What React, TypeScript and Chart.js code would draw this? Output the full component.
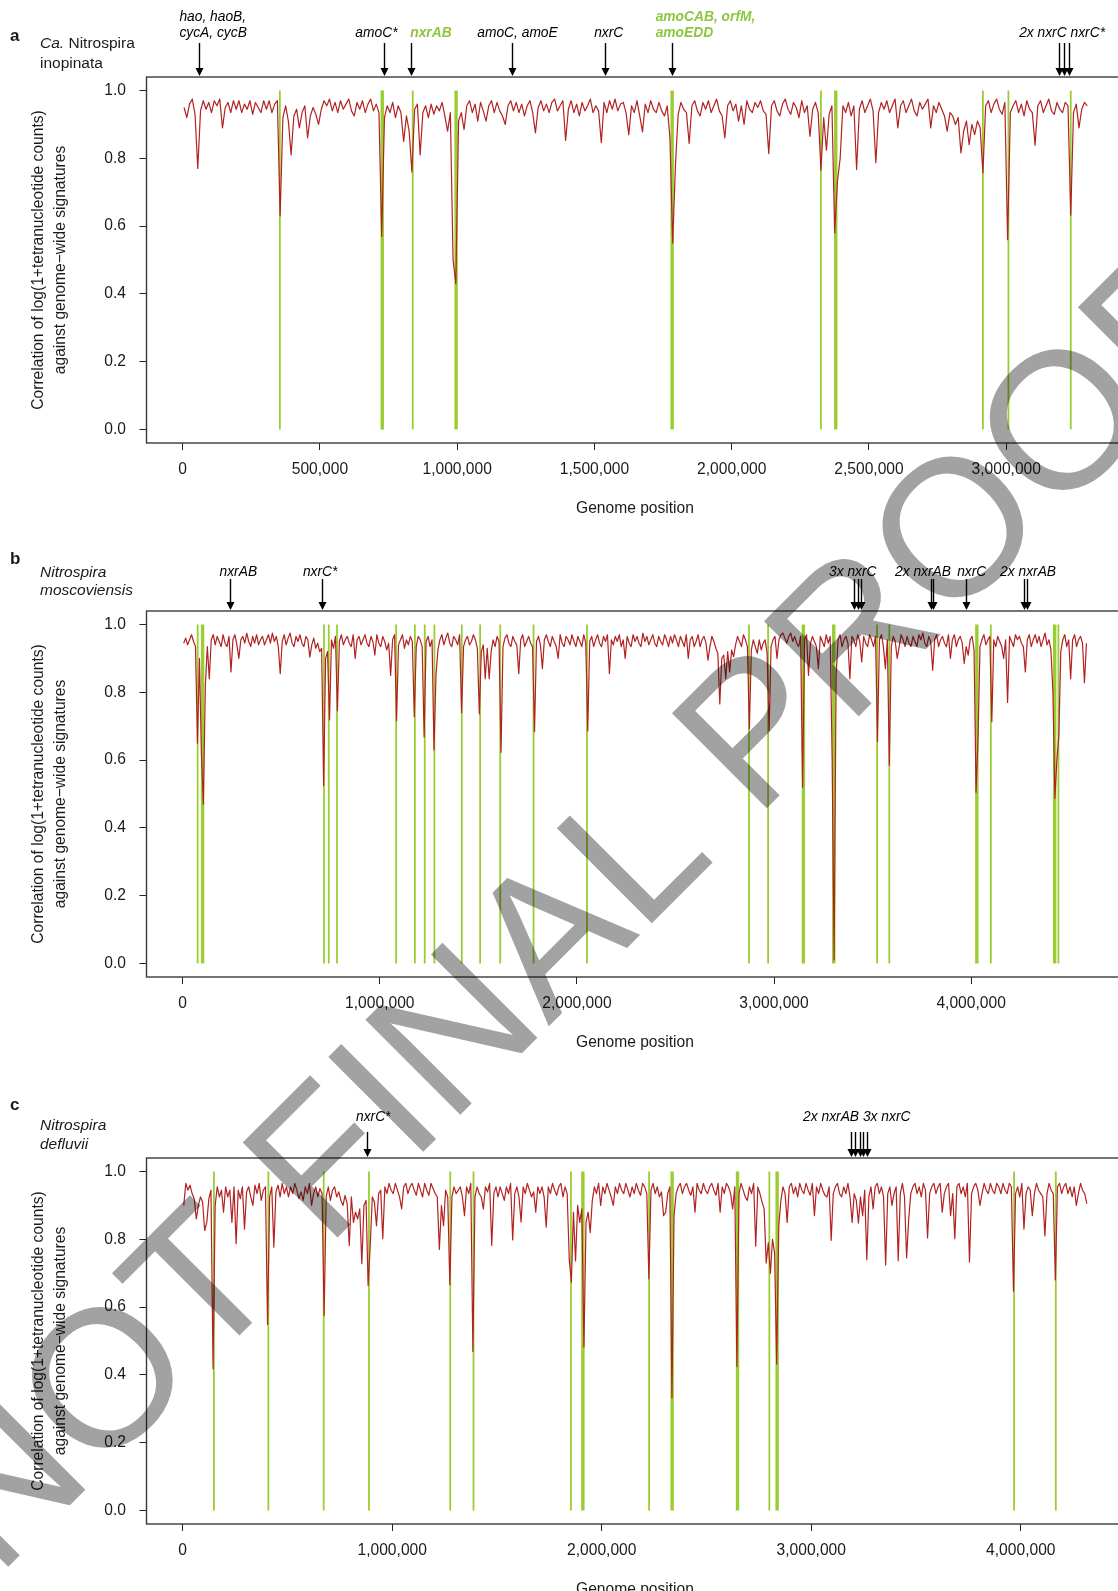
import React, { useEffect, useRef } from 'react';
import { Chart, registerables } from 'chart.js';

Chart.register(...registerables);

const FONT = '"Liberation Sans", Arial, Helvetica, sans-serif';
const RED = '#B22222';
const GREEN = '#9ACD32';
const GREEN_TEXT = '#8DC63F';
const INK = '#1a1a1a';

const WINDOW_BP = 10000;

const GENOME_A = 3295000;
const GENOME_B = 4589000;
const GENOME_C = 4317000;

const XTICKS_A = [0, 500000, 1000000, 1500000, 2000000, 2500000, 3000000];
const XTICKS_BC = [0, 1000000, 2000000, 3000000, 4000000];
const YTICKS = [0, 0.2, 0.4, 0.6, 0.8, 1.0];

const Y_TITLE = ['Correlation of log(1+tetranucleotide counts)', 'against genome\u2212wide signatures'];
const X_TITLE = 'Genome position';

// correlation per 10 kb window — Ca. Nitrospira inopinata
const VALUES_A = [
  .95,.92,.96,.975,.93,.77,.94,.97,.945,.965,
  .935,.97,.955,.975,.89,.95,.965,.935,.97,.945,
  .97,.935,.96,.945,.97,.93,.965,.95,.935,.97,
  .945,.97,.935,.96,.97,.63,.92,.955,.91,.81,
  .925,.945,.89,.935,.955,.86,.925,.95,.93,.90,
  .945,.97,.955,.975,.94,.965,.935,.97,.945,.96,
  .975,.94,.925,.965,.945,.97,.935,.96,.975,.94,
  .96,.935,.57,.92,.955,.935,.965,.92,.955,.935,
  .85,.925,.88,.76,.945,.96,.81,.935,.955,.92,
  .96,.93,.955,.94,.965,.925,.88,.935,.50,.43,
  .91,.935,.885,.955,.97,.935,.96,.91,.965,.94,
  .91,.955,.97,.935,.965,.94,.925,.90,.955,.97,
  .94,.965,.935,.96,.925,.955,.97,.935,.875,.95,
  .97,.94,.96,.935,.965,.975,.94,.955,.97,.853,
  .945,.97,.935,.96,.925,.965,.94,.955,.975,.935,
  .955,.94,.846,.965,.935,.97,.945,.975,.94,.96,
  .965,.935,.87,.955,.935,.97,.925,.878,.96,.935,
  .97,.945,.935,.965,.94,.925,.955,.86,.55,.78,
  .93,.965,.945,.935,.844,.955,.97,.94,.925,.965,
  .945,.97,.935,.955,.975,.94,.925,.86,.955,.97,
  .94,.96,.91,.955,.90,.97,.945,.935,.965,.95,
  .97,.94,.93,.814,.955,.97,.94,.925,.96,.975,
  .945,.93,.965,.95,.92,.97,.935,.955,.865,.945,
  .965,.935,.765,.92,.824,.93,.955,.58,.73,.80,
  .955,.935,.965,.925,.955,.767,.945,.97,.935,.955,
  .975,.94,.787,.935,.965,.945,.97,.935,.955,.975,
  .89,.955,.97,.935,.955,.975,.94,.925,.965,.945,
  .96,.975,.89,.955,.935,.965,.945,.925,.88,.935,
  .925,.90,.92,.816,.88,.91,.84,.90,.87,.91,
  .89,.757,.955,.97,.935,.96,.975,.945,.93,.965,
  .56,.935,.955,.97,.935,.96,.925,.97,.945,.935,
  .839,.955,.97,.935,.955,.975,.94,.93,.965,.945,
  .935,.965,.955,.632,.935,.96,.89,.945,.965,.955,
];

// Nitrospira moscoviensis
const VALUES_B = [
  .945,.96,.94,.955,.97,.95,.935,.65,.90,.62,
  .47,.82,.935,.84,.955,.97,.94,.965,.95,.935,
  .97,.945,.935,.965,.86,.955,.97,.94,.90,.955,
  .965,.945,.975,.95,.935,.965,.945,.97,.94,.955,
  .965,.94,.955,.97,.945,.975,.95,.965,.935,.855,
  .95,.97,.94,.96,.975,.945,.935,.965,.95,.97,
  .945,.935,.965,.955,.904,.94,.96,.93,.945,.92,
  .93,.525,.90,.92,.719,.955,.93,.965,.746,.95,
  .97,.94,.955,.965,.945,.935,.97,.90,.955,.965,
  .94,.955,.97,.945,.935,.965,.95,.91,.97,.945,
  .935,.965,.95,.925,.945,.85,.955,.97,.716,.94,
  .955,.97,.93,.955,.94,.965,.95,.728,.935,.965,
  .955,.935,.668,.95,.965,.935,.955,.63,.85,.925,
  .955,.97,.94,.96,.975,.945,.935,.965,.955,.94,
  .97,.74,.935,.955,.965,.94,.95,.97,.955,.93,
  .736,.92,.94,.84,.93,.84,.92,.955,.935,.965,
  .95,.623,.935,.96,.97,.945,.935,.965,.95,.94,
  .855,.955,.97,.935,.95,.965,.945,.935,.684,.95,
  .965,.94,.87,.955,.97,.95,.935,.965,.95,.935,
  .90,.97,.945,.935,.965,.955,.94,.97,.95,.935,
  .965,.95,.935,.97,.945,.686,.95,.965,.935,.955,
  .97,.945,.935,.965,.95,.97,.855,.955,.94,.965,
  .95,.97,.935,.955,.90,.965,.945,.935,.97,.95,
  .965,.945,.935,.975,.95,.965,.94,.955,.97,.945,
  .935,.965,.95,.94,.97,.955,.935,.965,.945,.97,
  .955,.935,.965,.95,.935,.97,.90,.955,.965,.935,
  .95,.97,.935,.955,.965,.945,.895,.935,.965,.95,
  .93,.915,.766,.90,.91,.84,.92,.86,.925,.905,
  .94,.965,.95,.935,.97,.955,.935,.692,.925,.955,
  .935,.915,.955,.925,.945,.955,.915,.687,.935,.955,
  .965,.90,.955,.97,.975,.96,.945,.965,.975,.95,
  .965,.945,.935,.965,.52,.955,.97,.85,.945,.965,
  .95,.935,.87,.965,.95,.935,.97,.945,.965,.60,
  .01,.85,.955,.97,.935,.955,.965,.945,.84,.965,
  .955,.935,.97,.95,.89,.965,.945,.935,.97,.955,
  .935,.965,.655,.955,.97,.935,.87,.955,.585,.935,
  .965,.95,.90,.935,.97,.955,.935,.965,.945,.935,
  .965,.95,.935,.97,.955,.975,.945,.935,.965,.95,
  .865,.955,.97,.935,.955,.965,.945,.935,.97,.90,
  .955,.97,.935,.955,.965,.945,.885,.935,.91,.955,
  .965,.925,.505,.66,.935,.955,.97,.94,.955,.965,
  .713,.955,.935,.965,.95,.935,.90,.955,.77,.965,
  .95,.935,.97,.955,.965,.945,.935,.86,.955,.97,
  .935,.955,.97,.945,.965,.935,.955,.975,.94,.955,
  .925,.80,.487,.60,.672,.92,.955,.97,.935,.955,
  .84,.955,.97,.935,.955,.965,.945,.828,.945,
];

// Nitrospira defluvii
const VALUES_C = [
  .90,.965,.945,.96,.935,.92,.86,.90,.925,.91,
  .826,.85,.92,.945,.418,.90,.955,.925,.945,.88,
  .955,.925,.945,.85,.955,.787,.945,.92,.955,.83,
  .94,.955,.925,.90,.96,.935,.965,.915,.945,.955,
  .549,.925,.955,.777,.94,.96,.925,.965,.935,.955,
  .925,.955,.935,.965,.945,.92,.94,.915,.955,.935,
  .965,.90,.935,.955,.925,.95,.935,.575,.925,.955,
  .915,.945,.955,.925,.94,.915,.90,.93,.905,.782,
  .925,.85,.88,.86,.89,.728,.90,.915,.664,.78,
  .925,.91,.84,.935,.945,.802,.955,.935,.965,.945,
  .935,.965,.945,.925,.89,.955,.965,.935,.955,.965,
  .945,.93,.965,.945,.925,.965,.945,.93,.965,.95,
  .935,.925,.77,.90,.84,.945,.925,.666,.925,.955,
  .935,.945,.955,.925,.87,.955,.935,.965,.469,.925,
  .955,.935,.925,.89,.955,.94,.965,.782,.935,.955,
  .925,.955,.935,.915,.955,.935,.965,.798,.935,.955,
  .925,.851,.955,.935,.965,.945,.925,.94,.88,.955,
  .935,.955,.925,.836,.955,.935,.965,.945,.93,.955,
  .965,.925,.955,.935,.74,.674,.88,.736,.90,.85,
  .89,.482,.85,.88,.82,.915,.955,.935,.965,.90,
  .955,.935,.965,.945,.925,.90,.955,.935,.965,.945,
  .935,.965,.945,.925,.955,.935,.965,.945,.93,.965,
  .955,.935,.683,.945,.965,.935,.955,.925,.94,.87,
  .88,.935,.955,.332,.87,.935,.955,.965,.935,.955,
  .965,.945,.93,.955,.88,.965,.945,.935,.965,.945,
  .935,.955,.965,.945,.93,.965,.88,.955,.935,.965,
  .955,.935,.89,.955,.425,.935,.965,.945,.925,.915,
  .955,.935,.965,.78,.955,.935,.91,.89,.73,.79,
  .70,.80,.76,.432,.84,.915,.955,.935,.85,.955,
  .965,.935,.955,.925,.965,.945,.935,.965,.945,.93,
  .965,.87,.955,.935,.965,.945,.93,.925,.955,.797,
  .935,.955,.965,.935,.925,.955,.935,.965,.925,.85,
  .935,.915,.848,.925,.87,.945,.74,.925,.955,.89,
  .955,.965,.935,.955,.925,.724,.935,.955,.90,.935,
  .955,.737,.935,.965,.925,.745,.86,.935,.955,.965,
  .935,.955,.925,.965,.945,.804,.935,.955,.965,.935,
  .955,.965,.88,.935,.955,.965,.87,.935,.802,.955,
  .965,.935,.955,.925,.965,.733,.935,.955,.965,.945,
  .90,.935,.965,.945,.935,.965,.945,.935,.965,.955,
  .935,.965,.945,.935,.965,.955,.647,.935,.955,.925,
  .965,.83,.935,.955,.945,.87,.935,.965,.945,.935,
  .925,.81,.935,.965,.945,.935,.68,.955,.965,.935,
  .955,.965,.935,.955,.925,.955,.90,.935,.965,.945,
  .935,.905,
];

// green bars (genome positions, bp)
const GREEN_A_THIN = [354000, 838000, 2325000, 2915000, 3008000, 3235000];
const GREEN_A_THICK = [727000, 996000, 1783000, 2379000];
const GREEN_B_THIN = [76000, 717000, 741000, 783000, 1083000, 1178000, 1228000, 1277000, 1416000, 1509000, 1611000, 1780000, 2051000, 2873000, 2970000, 3523000, 3585000, 4100000, 4443000];
const GREEN_B_THICK = [101000, 3149000, 3303000, 4029000, 4424000];
const GREEN_C_THIN = [149000, 409000, 673000, 889000, 1277000, 1388000, 1853000, 2226000, 2800000, 3968000, 4167000];
const GREEN_C_THICK = [1910000, 2336000, 2648000, 2837000];

// gene arrows (bp)
const ARROWS_A = [60000, 734000, 833000, 1201000, 1538000, 1782000, 3194000, 3210000, 3229000];
const ARROWS_B = [238000, 705000, 3407000, 3425000, 3443000, 3794000, 3808000, 3975000, 4268000, 4282000];
const ARROWS_C = [879000, 3190000, 3210000, 3231000, 3247000, 3264000];

// gene labels: left edge (bp), lines, highlighted
const LABELS_A = [
  { at: -12000, lines: ['hao, haoB,', 'cycA, cycB'], hi: false },
  { at: 629000, lines: ['amoC*'], hi: false },
  { at: 829000, lines: ['nxrAB'], hi: true },
  { at: 1073000, lines: ['amoC, amoE'], hi: false },
  { at: 1499000, lines: ['nxrC'], hi: false },
  { at: 1723000, lines: ['amoCAB, orfM,', 'amoEDD'], hi: true },
  { at: 3047000, lines: ['2x nxrC nxrC*'], hi: false },
];
const LABELS_B = [
  { at: 187000, lines: ['nxrAB'], hi: false },
  { at: 610000, lines: ['nxrC*'], hi: false },
  { at: 3279000, lines: ['3x nxrC'], hi: false },
  { at: 3614000, lines: ['2x nxrAB'], hi: false },
  { at: 3929000, lines: ['nxrC'], hi: false },
  { at: 4147000, lines: ['2x nxrAB'], hi: false },
];
const LABELS_C = [
  { at: 827000, lines: ['nxrC*'], hi: false },
  { at: 2961000, lines: ['2x nxrAB 3x nxrC'], hi: false },
];

// layout
const CW = 1140;
const CH = 528;
const FRAME_TOP = 77;
const PLOT_LEFT = 146.5;
const PLOT_RIGHT = 1123.4;
const XAXIS_H = 85;

const PANELS = [
  { key: 'a', top: 0, L: GENOME_A, values: VALUES_A, thin: GREEN_A_THIN, thick: GREEN_A_THICK, xticks: XTICKS_A, arrows: ARROWS_A, labels: LABELS_A, labelY: -44, arrowTop: -34 },
  { key: 'b', top: 534, L: GENOME_B, values: VALUES_B, thin: GREEN_B_THIN, thick: GREEN_B_THICK, xticks: XTICKS_BC, arrows: ARROWS_B, labels: LABELS_B, labelY: -39, arrowTop: -32 },
  { key: 'c', top: 1081, L: GENOME_C, values: VALUES_C, thin: GREEN_C_THIN, thick: GREEN_C_THICK, xticks: XTICKS_BC, arrows: ARROWS_C, labels: LABELS_C, labelY: -41, arrowTop: -26 },
];

const verticals = (xs: number[]) => xs.flatMap((x) => [{ x, y: 0 }, { x, y: 1 }, { x, y: null }]);

function makeAnnot(p: any) {
  return {
    id: 'annot_' + p.key,
    afterDraw(chart: any) {
      const { ctx, chartArea } = chart;
      const x = chart.scales.x;
      ctx.save();
      ctx.strokeStyle = '#3a3a3a';
      ctx.lineWidth = 1.4;
      ctx.strokeRect(chartArea.left, chartArea.top, chartArea.right - chartArea.left, chartArea.bottom - chartArea.top);
      ctx.strokeStyle = '#000';
      ctx.fillStyle = '#000';
      for (const pos of p.arrows) {
        const px = Math.round(x.getPixelForValue(pos)) + 0.5;
        const y0 = chartArea.top + p.arrowTop;
        const y1 = chartArea.top - 1;
        ctx.beginPath();
        ctx.lineWidth = 1.4;
        ctx.moveTo(px, y0);
        ctx.lineTo(px, y1 - 6);
        ctx.stroke();
        ctx.beginPath();
        ctx.moveTo(px - 4, y1 - 8);
        ctx.lineTo(px + 4, y1 - 8);
        ctx.lineTo(px, y1);
        ctx.closePath();
        ctx.fill();
      }
      ctx.textBaseline = 'middle';
      ctx.textAlign = 'left';
      for (const lab of p.labels) {
        ctx.font = (lab.hi ? 'italic bold ' : 'italic ') + '13.8px ' + FONT;
        ctx.fillStyle = lab.hi ? GREEN_TEXT : '#000';
        const lx = x.getPixelForValue(lab.at);
        const n = lab.lines.length;
        lab.lines.forEach((t: string, i: number) => {
          ctx.fillText(t, lx, chartArea.top + p.labelY - (n - 1 - i) * 16);
        });
      }
      ctx.restore();
    },
  };
}

function Panel({ p }: { p: any }) {
  const ref = useRef<HTMLCanvasElement>(null);
  useEffect(() => {
    const canvas = ref.current as HTMLCanvasElement;
    const red = p.values.map((y: number, i: number) => ({ x: i * WINDOW_BP + WINDOW_BP / 2, y }));
    const chart = new Chart(canvas, {
      type: 'line',
      data: {
        datasets: [
          { label: 'correlation', data: red, borderColor: RED, borderWidth: 1.2, pointRadius: 0, tension: 0, fill: false, order: 0, borderJoinStyle: 'round' },
          { label: 'hgt', data: verticals(p.thin), borderColor: GREEN, borderWidth: 1.8, pointRadius: 0, spanGaps: false, fill: false, order: 1 },
          { label: 'hgt2', data: verticals(p.thick), borderColor: GREEN, borderWidth: 3.4, pointRadius: 0, spanGaps: false, fill: false, order: 2 },
        ],
      } as any,
      options: {
        responsive: false,
        animation: false,
        devicePixelRatio: 1,
        events: [],
        layout: { padding: { left: 0, top: FRAME_TOP, right: CW - PLOT_RIGHT, bottom: 0 } },
        plugins: { legend: { display: false }, tooltip: { enabled: false }, title: { display: false } },
        scales: {
          x: {
            type: 'linear',
            min: -0.04 * p.L,
            max: 1.04 * p.L,
            border: { display: false },
            grid: { drawOnChartArea: false, drawTicks: true, tickLength: 7, color: '#222', lineWidth: 1 },
            ticks: {
              color: INK,
              font: { family: FONT, size: 15.6 },
              padding: 10,
              maxRotation: 0,
              autoSkip: false,
              callback: (v: any) => Number(v).toLocaleString('en-US'),
            },
            afterBuildTicks: (s: any) => { s.ticks = p.xticks.map((value: number) => ({ value })); },
            afterFit: (s: any) => { s.height = XAXIS_H; },
            title: { display: true, text: X_TITLE, color: INK, font: { family: FONT, size: 15.6 }, padding: { top: 0, bottom: 9.5 } },
          },
          y: {
            type: 'linear',
            min: -0.04,
            max: 1.04,
            border: { display: false },
            grid: { drawOnChartArea: false, drawTicks: true, tickLength: 7, color: '#222', lineWidth: 1 },
            ticks: {
              color: INK,
              font: { family: FONT, size: 15.6 },
              padding: 13.5,
              callback: (v: any) => Number(v).toFixed(1),
            },
            afterBuildTicks: (s: any) => { s.ticks = YTICKS.map((value) => ({ value })); },
            afterFit: (s: any) => { s.width = PLOT_LEFT; },
            title: { display: true, text: Y_TITLE, color: INK, font: { family: FONT, size: 15.6, lineHeight: 1.45 }, padding: { top: 27, bottom: 0 } },
          },
        },
      } as any,
      plugins: [makeAnnot(p)],
    });
    return () => chart.destroy();
  }, []);
  return <canvas ref={ref} width={CW} height={CH} style={{ position: 'absolute', left: 0, top: p.top, width: CW, height: CH }} />;
}

const txt = (left: number, top: number, size: number, content: any, extra: any = {}) => (
  <div style={{ position: 'absolute', left, top, fontSize: size, lineHeight: 1, whiteSpace: 'nowrap', ...extra }}>{content}</div>
);

export default function App() {
  const wm = useRef<HTMLCanvasElement>(null);
  useEffect(() => {
    const c = wm.current as HTMLCanvasElement;
    const ctx = c.getContext('2d') as CanvasRenderingContext2D;
    ctx.clearRect(0, 0, c.width, c.height);
    ctx.save();
    ctx.translate(-3, 1578);
    ctx.rotate(-Math.PI / 4);
    ctx.font = '195px ' + FONT;
    ctx.fillStyle = '#A2A2A2';
    ctx.textBaseline = 'alphabetic';
    ctx.fillText('NOT FINAL PROOF', 0, 0);
    ctx.restore();
  }, []);
  return (
    <div style={{ position: 'fixed', left: 0, top: 0, width: 1118, height: 1591, overflow: 'hidden', background: '#fff', fontFamily: FONT, color: INK }}>
      {PANELS.map((p) => <Panel key={p.key} p={p} />)}
      {txt(10, 27, 17, 'a', { fontWeight: 'bold' })}
      {txt(40, 35, 15.5, <span><i>Ca.</i> Nitrospira</span>)}
      {txt(40, 54.5, 15.5, 'inopinata')}
      {txt(10, 550, 17, 'b', { fontWeight: 'bold' })}
      {txt(40, 563.5, 15.5, 'Nitrospira', { fontStyle: 'italic' })}
      {txt(40, 582, 15.5, 'moscoviensis', { fontStyle: 'italic' })}
      {txt(10, 1096, 17, 'c', { fontWeight: 'bold' })}
      {txt(40, 1116.5, 15.5, 'Nitrospira', { fontStyle: 'italic' })}
      {txt(40, 1135.5, 15.5, 'defluvii', { fontStyle: 'italic' })}
      <canvas ref={wm} width={1118} height={1591} style={{ position: 'absolute', left: 0, top: 0, width: 1118, height: 1591, mixBlendMode: 'multiply', pointerEvents: 'none' }} />
    </div>
  );
}
